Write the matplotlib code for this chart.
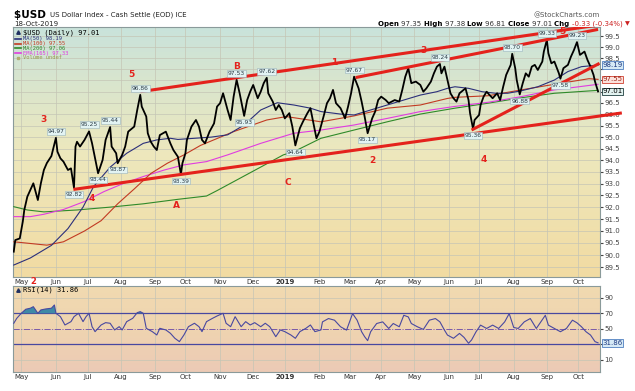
import matplotlib
matplotlib.use('Agg')
import matplotlib.pyplot as plt
import numpy as np
import pandas as pd
from matplotlib.colors import LinearSegmentedColormap
from matplotlib.ticker import FixedLocator, FuncFormatter, NullLocator, NullFormatter
from matplotlib.transforms import blended_transform_factory

# trading days 24-Apr-2018 .. 18-Oct-2019, day index 0..388
dates = pd.bdate_range('2018-04-24', '2019-10-18')

# $USD closes (day index, value)
px_day = [0, 1, 4, 6, 7, 9, 11, 13, 16, 18, 20, 22, 25, 28, 29, 31, 33, 36, 38, 40, 41, 42, 44, 47, 50,
          52, 54, 56, 59, 61, 64, 65, 68, 69, 72, 74, 76, 80, 82, 84, 85, 88, 89, 91, 93, 95, 97, 101, 104,
          106, 109, 111, 112, 114, 115, 118, 121, 123, 125, 127, 130, 133, 135, 137, 139, 142, 144, 146,
          148, 150, 153, 155, 157, 159, 162, 164, 166, 168, 169, 172, 174, 176, 178, 180, 183, 185, 187,
          190, 192, 195, 197, 199, 201, 203, 206, 208, 210, 212, 214, 217, 220, 222, 224, 226, 229, 231,
          233, 235, 238, 240, 242, 244, 247, 249, 251, 253, 256, 258, 260, 262, 264, 267, 270, 272, 274,
          277, 279, 281, 283, 284, 286, 288, 290, 292, 294, 296, 300, 302, 303, 305, 306, 309, 310, 312,
          314, 316, 318, 321, 323, 325, 327, 330, 331, 333, 334, 336, 338, 340, 342, 344, 346, 348, 351,
          352, 354, 355, 357, 359, 362, 363, 365, 368, 370, 372, 374, 376, 379, 381, 383, 385, 386, 388]
px_close = [90.14, 90.62, 90.69, 91.39, 91.88, 92.44, 92.72, 93.01, 92.30, 93.01, 93.58, 93.88, 94.18,
            94.97, 94.37, 94.08, 93.94, 93.58, 93.65, 92.82, 94.59, 94.80, 94.59, 94.88, 95.25, 94.73,
            94.08, 93.44, 94.01, 94.88, 95.44, 94.59, 94.30, 93.87, 94.23, 94.59, 95.24, 95.46, 96.19,
            96.86, 96.34, 95.90, 95.17, 94.80, 94.59, 94.44, 95.09, 95.24, 94.73, 94.44, 94.15, 93.39,
            93.87, 94.30, 94.88, 95.46, 95.75, 95.46, 94.88, 94.73, 95.24, 95.60, 96.34, 96.49, 96.93,
            96.19, 95.75, 96.78, 97.53, 96.93, 95.93, 96.63, 97.00, 97.30, 96.71, 97.00, 97.38, 97.62,
            96.93, 96.56, 96.19, 96.41, 96.19, 95.82, 96.05, 95.46, 94.64, 95.39, 95.67, 96.05, 96.27,
            95.60, 94.95, 95.24, 95.97, 96.49, 96.71, 97.08, 96.49, 96.27, 95.82, 96.34, 96.93, 97.67,
            97.15, 96.56, 95.90, 95.17, 95.82, 96.12, 96.63, 96.78, 96.63, 96.49, 96.56, 96.63, 96.56,
            97.08, 97.67, 98.05, 97.38, 97.45, 97.30, 97.00, 97.15, 97.45, 97.82, 98.12, 98.24, 97.82,
            98.12, 97.52, 96.93, 96.71, 96.56, 96.93, 97.15, 96.63, 96.05, 95.36, 95.75, 95.97, 96.41,
            96.78, 97.00, 96.85, 96.71, 96.93, 96.63, 97.22, 97.75, 98.20, 98.70, 98.05, 97.52, 96.88,
            97.38, 97.82, 97.67, 98.12, 98.20, 97.97, 98.35, 98.80, 99.33, 98.73, 98.27, 98.35, 97.82,
            97.58, 98.05, 98.20, 98.57, 98.87, 99.23, 98.65, 98.80, 98.42, 98.12, 97.75, 97.45, 97.01]

ma50_day = [0, 11, 25, 36, 46, 53, 64, 75, 86, 95, 104, 109, 120, 131, 142, 153, 164, 175, 186, 197, 204,
            217, 226, 237, 248, 259, 270, 281, 288, 293, 302, 311, 320, 328, 337, 348, 359, 368, 377, 388]
ma50_val = [89.59, 89.88, 90.40, 91.10, 92.00, 92.87, 93.70, 94.30, 94.73, 94.88, 94.95, 94.90, 94.95,
            95.00, 95.10, 95.53, 96.19, 96.51, 96.41, 96.27, 96.12, 96.01, 95.97, 96.19, 96.41, 96.63,
            96.85, 97.00, 97.15, 97.22, 97.15, 97.00, 96.93, 96.93, 97.04, 97.22, 97.52, 97.90, 98.12, 98.19]

ma100_day = [0, 11, 22, 33, 47, 58, 69, 80, 91, 102, 113, 124, 146, 168, 181, 204, 226, 248, 270, 288,
             293, 315, 337, 359, 382, 388]
ma100_val = [90.55, 90.48, 90.41, 90.55, 91.00, 91.43, 92.14, 92.77, 93.43, 93.87, 94.23, 94.64, 95.24,
             95.75, 95.90, 95.67, 95.93, 96.27, 96.41, 96.70, 96.75, 96.82, 97.08, 97.33, 97.58, 97.55]

ma200_day = [0, 9, 20, 42, 64, 86, 109, 128, 135, 146, 179, 186, 204, 226, 248, 270, 293, 315, 337, 359, 388]
ma200_val = [92.02, 91.88, 91.80, 91.88, 92.00, 92.14, 92.33, 92.47, 92.70, 93.08, 94.23, 94.37, 94.95,
             95.31, 95.67, 96.01, 96.27, 96.49, 96.73, 96.93, 97.06]

ema165_day = [0, 11, 20, 33, 47, 60, 73, 86, 100, 113, 128, 142, 164, 186, 204, 226, 248, 270, 292, 315,
              337, 359, 388]
ema165_val = [91.60, 91.60, 91.70, 91.90, 92.24, 92.66, 93.01, 93.30, 93.58, 93.80, 93.94, 94.23, 94.73,
              95.17, 95.31, 95.53, 95.82, 96.12, 96.34, 96.53, 96.78, 97.08, 97.33]

rsi_day = [0, 2, 5, 8, 11, 13, 16, 18, 21, 25, 27, 28, 31, 34, 38, 40, 43, 46, 48, 50, 52, 54, 58, 61, 64,
           67, 70, 72, 75, 79, 82, 84, 86, 88, 92, 95, 97, 101, 104, 107, 110, 113, 116, 120, 123, 125,
           128, 132, 135, 139, 141, 144, 147, 151, 154, 157, 160, 164, 167, 170, 174, 177, 180, 184, 187,
           190, 194, 197, 200, 204, 205, 209, 213, 217, 221, 225, 228, 231, 233, 235, 237, 241, 245, 249,
           252, 256, 259, 262, 264, 268, 272, 276, 280, 283, 286, 288, 292, 296, 299, 302, 304, 307, 310,
           314, 318, 322, 326, 329, 332, 335, 339, 343, 347, 350, 353, 355, 359, 363, 367, 371, 374, 377,
           380, 383, 386, 388]
rsi_val = [57.1, 63.5, 70.0, 75.2, 76.5, 78.5, 70.0, 74.3, 75.5, 76.5, 80.7, 70.0, 65.6, 54.9, 59.2, 65.6,
           70.0, 59.2, 65.6, 70.0, 52.7, 46.3, 54.9, 57.9, 57.1, 48.5, 52.7, 48.5, 59.2, 63.5, 70.8, 72.1,
           70.0, 50.6, 46.3, 42.0, 50.6, 48.5, 44.2, 37.7, 33.4, 42.0, 52.7, 57.1, 52.7, 46.3, 59.2, 63.5,
           66.5, 70.0, 57.1, 52.7, 65.6, 52.7, 59.2, 54.9, 57.9, 52.7, 57.1, 52.7, 39.8, 48.5, 46.3, 42.0,
           37.7, 46.3, 50.6, 54.9, 46.3, 48.5, 58.9, 63.2, 61.1, 52.6, 48.3, 69.6, 61.1, 46.2, 39.8, 34.7,
           46.2, 56.8, 58.9, 50.4, 56.8, 52.6, 67.4, 65.3, 56.8, 52.6, 49.2, 61.1, 63.2, 58.9, 48.3, 41.9,
           37.7, 44.0, 38.9, 31.3, 35.5, 46.2, 54.7, 50.4, 54.7, 50.4, 58.9, 69.6, 51.7, 50.4, 58.9, 63.2,
           50.4, 58.9, 67.4, 54.7, 50.4, 46.2, 50.4, 61.1, 57.7, 52.6, 46.2, 41.9, 33.4, 31.86]

# swing labels on the price panel: (day, value, text, above?)
swing_day = [28, 40, 50, 56, 64, 69, 84, 111, 148, 153, 168, 187, 226, 235, 283, 305, 331, 336, 354, 363, 374]
swing_val = [94.97, 92.82, 95.25, 93.44, 95.44, 93.87, 96.86, 93.39, 97.53, 95.93, 97.62, 94.64, 97.67,
             95.17, 98.24, 95.36, 98.70, 96.88, 99.33, 97.58, 99.23]
swing_up = [1, 0, 1, 0, 1, 0, 1, 0, 1, 0, 1, 0, 1, 0, 1, 0, 1, 0, 1, 0, 1]

# Elliott wave counts (text, day, level)
wave_txt = ['3', '4', '5', 'A', 'B', 'C', '1', '2', '3', '4', '5']
wave_day = [20, 52, 78, 108, 148, 182, 213, 238, 272, 312, 364]
wave_lvl = [95.79, 92.38, 97.75, 92.05, 98.11, 93.06, 98.29, 93.97, 98.83, 94.01, 99.70]

# trend lines: (day0, val0, day1, val1)
trend_top = (84, 97.0, 389.3, 100.02)
trend_mid = (227, 97.63, 388, 99.81)
trend_low = (39.6, 92.75, 403.8, 96.06)
trend_rise = (304, 95.31, 389, 98.27)

RED = '#e4221c'
C50, C100, C200, CEMA = '#2b2f7a', '#c23a22', '#2f8a2a', '#e03ce0'

fig = plt.figure(figsize=(6.35, 3.91), dpi=100)
fig.patch.set_facecolor('white')
W, H = 635.0, 391.0
L, R = 13 / W, 600 / W
ax = fig.add_axes([L, 1 - 277 / H, R - L, 250 / H])
ax2 = fig.add_axes([L, 1 - 371.7 / H, R - L, 85.7 / H])

def gradient(a, cols):
    cm = LinearSegmentedColormap.from_list('g', cols)
    a.imshow(np.linspace(1, 0, 256).reshape(-1, 1), cmap=cm, aspect='auto',
             extent=[0, 1, 0, 1], transform=a.transAxes, zorder=0)

gradient(ax, ['#f2dba2', '#ede8bd', '#c9e3db'])
gradient(ax2, ['#eccab6', '#efd4b0', '#f1dab0'])

ms_idx = [i for i in range(1, len(dates)) if dates[i].month != dates[i - 1].month]
ms_lab = ['2019' if dates[i].month == 1 else dates[i].strftime('%b') for i in ms_idx]

for a in (ax, ax2):
    a.set_xlim(-0.5, 389.3)
    a.set_xticks(ms_idx)
    a.set_xticklabels(ms_lab)
    a.tick_params(axis='x', length=0, labelsize=5, pad=1.5, colors='#333333')
    for t in a.get_xticklabels():
        if t.get_text() == '2019':
            t.set_fontweight('bold')
    a.yaxis.tick_right()
    a.tick_params(axis='y', length=2, labelsize=5, pad=1, colors='#444444')
    a.grid(True, color='#c5c5b5', lw=0.5, zorder=1)
    for s in a.spines.values():
        s.set_color('#8a9a9a')
        s.set_linewidth(0.8)

# price panel (labels under the value boxes are left out, as on the chart)
hidden = {'98.0', '97.5', '97.0'}
ax.set_yscale('log')
ax.set_ylim(89.10, 99.92)
ax.yaxis.set_major_locator(FixedLocator(np.arange(89.5, 99.51, 0.5)))
ax.yaxis.set_major_formatter(FuncFormatter(lambda v, p: '' if '%.1f' % v in hidden else '%.1f' % v))
ax.yaxis.set_minor_locator(NullLocator())
ax.yaxis.set_minor_formatter(NullFormatter())

ax.plot(ma200_day, ma200_val, color=C200, lw=0.8, zorder=3)
ax.plot(ema165_day, ema165_val, color=CEMA, lw=0.8, zorder=3)
ax.plot(ma100_day, ma100_val, color=C100, lw=0.8, zorder=3)
ax.plot(ma50_day, ma50_val, color=C50, lw=0.8, zorder=3)
ax.plot(px_day, px_close, color='black', lw=1.3, zorder=4)

for tl in (trend_top, trend_mid, trend_rise):
    ax.plot([tl[0], tl[2]], [tl[1], tl[3]], color=RED, lw=2.2, zorder=5, solid_capstyle='butt')
ax.plot([trend_low[0], trend_low[2]], [trend_low[1], trend_low[3]], color=RED, lw=2.2, zorder=5,
        clip_on=False, solid_capstyle='butt')

for d, v, up in zip(swing_day, swing_val, swing_up):
    ax.annotate('%.2f' % v, xy=(d, v), xytext=(0, 3 if up else -3), textcoords='offset points',
                ha='center', va='bottom' if up else 'top', fontsize=4.3, color='#2a3a44', zorder=6,
                bbox=dict(boxstyle='square,pad=0.15', fc='#e2f3f3', ec='#9ab4bc', lw=0.4))

for s, d, v in zip(wave_txt, wave_day, wave_lvl):
    ax.text(d, v, s, color=RED, fontsize=6.5, fontweight='bold', ha='center', va='center', zorder=6)

# right-hand value boxes
bt = blended_transform_factory(ax.transAxes, ax.transData)
for v, fc, ec, tc in [(98.19, '#d6eaf6', '#4f7fc0', '#1f3a80'),
                      (97.55, '#fbe2dc', '#d04030', '#a02418'),
                      (97.01, '#e2f2f0', '#1f3f3f', '#000000')]:
    ax.text(1.004, v, '%.2f' % v, transform=bt, fontsize=5, color=tc, ha='left', va='center', zorder=7,
            bbox=dict(boxstyle='square,pad=0.12', fc=fc, ec=ec, lw=0.6))

# legend block
mono = 'DejaVu Sans Mono'
leg = [('$USD (Daily) 97.01', 'black', 5.0), ('MA(50) 98.19', C50, 3.9), ('MA(100) 97.55', C100, 3.9),
       ('MA(200) 97.06', C200, 3.9), ('EMA(165) 97.33', CEMA, 3.9), ('Volume undef', '#9a9a50', 3.9)]
ly = [0.979, 0.953, 0.934, 0.915, 0.896, 0.877]
for (s, c, fs), y in zip(leg, ly):
    if s.startswith('$'):
        ax.plot([0.009], [y], marker='^', ms=2.5, color='#203060', transform=ax.transAxes, zorder=7)
    elif s.startswith('Vol'):
        ax.plot([0.009], [y], marker='s', ms=1.8, color='#b0b070', transform=ax.transAxes, zorder=7)
    else:
        ax.plot([0.004, 0.014], [y, y], color=c, lw=1.2, transform=ax.transAxes, zorder=7)
    ax.text(0.017, y, s, transform=ax.transAxes, fontsize=fs, color=c, family=mono, va='center', zorder=7)

# RSI panel
ax2.set_ylim(-5.4, 105.2)
ax2.set_yticks([10, 30, 50, 70, 90])
ax2.set_yticklabels(['10', '', '50', '70', '90'])
ax2.grid(False, axis='y')
for lv in (10, 90):
    ax2.axhline(lv, color='#c5c5b5', lw=0.5, zorder=1)
ax2.axhline(70, color='#4848a0', lw=0.9, zorder=2)
ax2.axhline(30, color='#4848a0', lw=0.9, zorder=2)
ax2.axhline(50, color='#7a5aa8', lw=0.7, ls='-.', zorder=2)
rd = np.array(rsi_day)
rv = np.array(rsi_val)
ax2.fill_between(rd, 70, rv, where=rv > 70, interpolate=True, color='#3f8aa6', lw=0, zorder=3)
ax2.plot(rd, rv, color='#4848a0', lw=0.8, zorder=4)
bt2 = blended_transform_factory(ax2.transAxes, ax2.transData)
ax2.text(1.004, 31.86, '31.86', transform=bt2, fontsize=5, color='#1f3a80', ha='left', va='center',
         zorder=7, bbox=dict(boxstyle='square,pad=0.12', fc='#d6eaf6', ec='#4f7fc0', lw=0.6))
ax2.plot([0.009], [0.955], marker='^', ms=2.5, color='#203060', transform=ax2.transAxes, zorder=7)
ax2.text(0.017, 0.955, 'RSI(14) 31.86', transform=ax2.transAxes, fontsize=5, family=mono,
         color='black', va='center', zorder=7)

# header texts
fig.canvas.draw()
rend = fig.canvas.get_renderer()

def run_text(x, y, parts):
    for s, kw in parts:
        t = fig.text(x, y, s, va='center', **kw)
        x += t.get_window_extent(renderer=rend).width / fig.bbox.width

run_text(14 / W, 1 - 15 / H, [('$USD ', dict(fontsize=7.5, fontweight='bold')),
                              ('US Dollar Index - Cash Settle (EOD) ICE', dict(fontsize=5, color='#222222'))])
fig.text(14 / W, 1 - 24 / H, '18-Oct-2019', fontsize=5, va='center', color='#222222')
fig.text(600 / W, 1 - 15.5 / H, '@StockCharts.com', fontsize=5, ha='right', va='center', color='#555555')
b, n = dict(fontsize=5, fontweight='bold'), dict(fontsize=5, color='#333333')
run_text(378 / W, 1 - 24 / H, [('Open ', b), ('97.35 ', n), ('High ', b), ('97.38 ', n), ('Low ', b),
                               ('96.81 ', n), ('Close ', b), ('97.01 ', n), ('Chg ', b),
                               ('-0.33 (-0.34%) ', dict(fontsize=5, color='#cc2020')),
                               ('\u25bc', dict(fontsize=4.5, color='#cc2020'))])
fig.text(33 / W, 1 - 282 / H, '2', fontsize=6, fontweight='bold', color=RED, ha='center', va='center')

fig.savefig('out.png', dpi=100)
